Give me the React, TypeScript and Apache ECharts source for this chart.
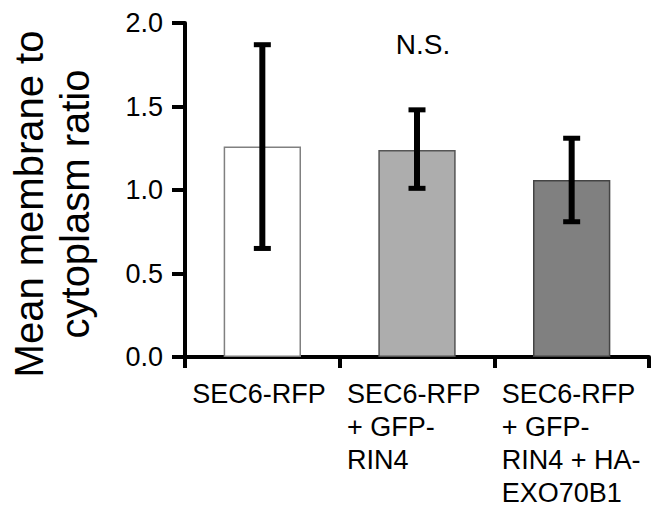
import React, { useEffect, useRef } from "react";
import * as echarts from "echarts";

const categories = [
  "SEC6-RFP",
  "SEC6-RFP\n+ GFP-\nRIN4",
  "SEC6-RFP\n+ GFP-\nRIN4 + HA-\nEXO70B1",
];
const means = [1.26, 1.24, 1.06];
const upper = [1.87, 1.48, 1.31];
const lower = [0.65, 1.01, 0.81];
const barColors = ["#ffffff", "#adadad", "#808080"];
const barBorders = ["#808080", "#555555", "#444444"];
const yTicks = [0, 0.5, 1.0, 1.5, 2.0];
const yTitle = "Mean membrane to\ncytoplasm ratio";
const annotation = "N.S.";

const FONT = "Liberation Sans, Arial, sans-serif";

export default function App() {
  const ref = useRef<HTMLDivElement>(null);
  useEffect(() => {
    if (!ref.current) return;
    const chart = echarts.init(ref.current, null, { renderer: "svg" });
    chart.setOption({
      animation: false,
      backgroundColor: "#ffffff",
      grid: { left: 185, right: 9, top: 23, bottom: 149, containLabel: false },
      xAxis: {
        type: "category",
        data: categories,
        boundaryGap: true,
        axisLine: { show: true, lineStyle: { color: "#000", width: 4 } },
        axisTick: { show: true, alignWithLabel: false, length: 11, lineStyle: { color: "#000", width: 4 } },
        axisLabel: {
          interval: 0,
          margin: 20,
          color: "#000",
          formatter: (v: string) =>
            v
              .split("\n")
              .map((l) => `{a|${l}}`)
              .join("\n"),
          rich: {
            a: {
              width: 140,
              align: "left",
              fontSize: 27,
              lineHeight: 33,
              fontFamily: FONT,
              color: "#000",
            },
          },
        },
        splitLine: { show: false },
      },
      yAxis: {
        type: "value",
        min: yTicks[0],
        max: yTicks[yTicks.length - 1],
        interval: 0.5,
        axisLine: { show: true, lineStyle: { color: "#000", width: 4 } },
        axisTick: { show: true, length: 13, lineStyle: { color: "#000", width: 4 } },
        axisLabel: {
          margin: 22,
          color: "#000",
          fontSize: 27,
          fontFamily: FONT,
          formatter: (v: number) => v.toFixed(1),
        },
        splitLine: { show: false },
      },
      graphic: [
        {
          type: "text",
          x: 52,
          y: 204,
          rotation: Math.PI / 2,
          style: {
            text: yTitle,
            fontSize: 40,
            lineHeight: 46,
            fontFamily: FONT,
            fill: "#000",
            textAlign: "center",
            textVerticalAlign: "middle",
          },
        },
        {
          type: "text",
          x: 423,
          y: 44,
          style: {
            text: annotation,
            fontSize: 28,
            fontFamily: FONT,
            fill: "#000",
            textAlign: "center",
            textVerticalAlign: "middle",
          },
        },
      ],
      series: [
        {
          type: "bar",
          barWidth: "50%",
          data: means.map((m, i) => ({
            value: m,
            itemStyle: { color: barColors[i], borderColor: barBorders[i], borderWidth: 1.5 },
          })),
          z: 2,
        },
        {
          type: "custom",
          z: 5,
          data: means.map((_, i) => [i, upper[i], lower[i]]),
          encode: { x: 0, y: [1, 2] },
          renderItem: (params: any, api: any) => {
            const top = api.coord([api.value(0), api.value(1)]);
            const bot = api.coord([api.value(0), api.value(2)]);
            const cx = top[0];
            const hw = 8.5;
            const st = { stroke: "#000", lineWidth: 6 };
            const cs = { stroke: "#000", lineWidth: 5 };
            return {
              type: "group",
              children: [
                { type: "line", shape: { x1: cx, y1: top[1], x2: cx, y2: bot[1] }, style: st },
                { type: "line", shape: { x1: cx - hw, y1: top[1], x2: cx + hw, y2: top[1] }, style: cs },
                { type: "line", shape: { x1: cx - hw, y1: bot[1], x2: cx + hw, y2: bot[1] }, style: cs },
              ],
            };
          },
        },
      ],
    });
    return () => chart.dispose();
  }, []);
  return (
    <div
      ref={ref}
      style={{ position: "fixed", left: 0, top: 0, width: 658, height: 506, background: "#fff" }}
    />
  );
}
